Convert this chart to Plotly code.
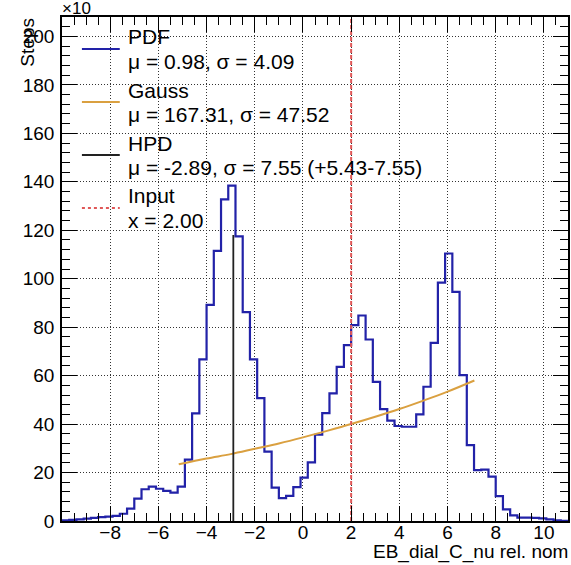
import numpy as np
import plotly.graph_objects as go

# ---------------- data ----------------
BIN_LOW = -10.0
BIN_WIDTH = 0.3
steps_counts = [
    0.3, 0.5, 0.7, 1.0, 1.3, 1.6, 1.8, 2.1, 3.0, 5.1,
    9.2, 13.1, 14.2, 13.3, 12.4, 11.7, 14.2, 25.3, 44.4, 66.7,
    89.2, 111.5, 132.7, 138.4, 117.5, 86.2, 66.7, 50.7, 28.6, 13.8,
    9.4, 10.4, 14.0, 17.9, 24.2, 35.6, 44.5, 52.7, 63.6, 72.6,
    80.8, 84.8, 74.9, 57.4, 46.2, 41.4, 39.2, 38.9, 38.9, 44.0,
    55.4, 73.5, 98.4, 110.4, 94.6, 60.2, 31.3, 21.0, 21.2, 18.3,
    10.3, 4.8, 2.3, 1.4, 1.4, 1.3, 1.1, 0.7, 0.3, 0.1,
]
gauss_x = [-5.155, -4.0, -3.0, -2.0, -1.0, 0.0, 1.0, 2.0, 3.0, 4.0, 5.0, 6.0, 7.115]
gauss_y = [23.4, 25.8, 27.6, 29.8, 32.0, 34.5, 37.2, 40.0, 43.0, 46.2, 49.7, 53.4, 58.0]
hpd_x = -2.89
hpd_height = 118.0
input_x = 2.0
y_max = 208.0
x_min, x_max = -10.0, 11.0
x_tickvals = [-8, -6, -4, -2, 0, 2, 4, 6, 8, 10]
y_tickvals = [0, 20, 40, 60, 80, 100, 120, 140, 160, 180, 200]

legend_entries = [
    ("PDF", "μ = 0.98, σ = 4.09"),
    ("Gauss", "μ = 167.31, σ = 47.52"),
    ("HPD", "μ = -2.89, σ = 7.55 (+5.43-7.55)"),
    ("Input", "x = 2.00"),
]

# ---------------- figure ----------------
FONT = "Liberation Sans, Arial, Helvetica, sans-serif"
BLUE = "#2222a8"
ORANGE = "#daa040"
RED = "#e05858"

n = len(steps_counts)
edges = BIN_LOW + BIN_WIDTH * np.arange(n + 1)
hx = list(edges)
hy = list(steps_counts) + [steps_counts[-1]]

fig = go.Figure()
fig.add_trace(go.Scatter(x=hx, y=hy, mode="lines", line=dict(color=BLUE, width=2.2, shape="hv"),
                         showlegend=False, name="PDF"))
fig.add_trace(go.Scatter(x=gauss_x, y=gauss_y, mode="lines", line=dict(color=ORANGE, width=2, shape="spline"),
                         showlegend=False, name="Gauss"))
fig.add_trace(go.Scatter(x=[hpd_x, hpd_x], y=[0, hpd_height], mode="lines", line=dict(color="#222222", width=1.8),
                         showlegend=False, name="HPD"))
fig.add_trace(go.Scatter(x=[input_x, input_x], y=[0, y_max], mode="lines",
                         line=dict(color=RED, width=2, dash="4px,2px"), showlegend=False, name="Input"))

W, H = 571, 565
L, R, T, B = 62, 1, 17, 44
pw, ph = W - L - R, H - T - B

def px2paper_x(px):
    return (px - L) / pw

def px2paper_y(py):
    return (H - B - py) / ph

# manual legend
sample_colors = [(BLUE, "solid"), (ORANGE, "solid"), ("#222222", "solid"), (RED, "3px,3px")]
line_ys = [49, 102, 155, 208]
shapes = []
annotations = []
LEG_FONT = dict(family=FONT, size=21, color="black")
for (title, sub), (col, dash), ly in zip(legend_entries, sample_colors, line_ys):
    shapes.append(dict(type="line", xref="paper", yref="paper",
                       x0=px2paper_x(82), x1=px2paper_x(120),
                       y0=px2paper_y(ly), y1=px2paper_y(ly),
                       line=dict(color=col, width=2, dash=dash)))
    annotations.append(dict(text=title, xref="paper", yref="paper", x=px2paper_x(126), y=px2paper_y(ly - 12),
                            xanchor="left", yanchor="middle", showarrow=False, font=LEG_FONT))
    annotations.append(dict(text=sub, xref="paper", yref="paper", x=px2paper_x(126), y=px2paper_y(ly + 12.5),
                            xanchor="left", yanchor="middle", showarrow=False, font=LEG_FONT))

annotations.append(dict(text="EB_dial_C_nu rel. nom", xref="paper", yref="paper",
                        x=px2paper_x(572), y=px2paper_y(552), xanchor="right", yanchor="middle",
                        showarrow=False, font=dict(family=FONT, size=19, color="black")))
annotations.append(dict(text="Steps", xref="paper", yref="paper", textangle=-90,
                        x=px2paper_x(27), y=px2paper_y(16), xanchor="center", yanchor="top",
                        showarrow=False, font=dict(family=FONT, size=19, color="black")))
annotations.append(dict(text="×10", xref="paper", yref="paper",
                        x=px2paper_x(60), y=px2paper_y(8), xanchor="left", yanchor="middle",
                        showarrow=False, font=dict(family=FONT, size=17, color="black")))

axis_common = dict(
    showline=True, linecolor="black", linewidth=1.5, mirror="ticks",
    ticks="inside", ticklen=15, tickwidth=1.2, tickcolor="black",
    showgrid=True, gridcolor="#333333", griddash="1px,2px", gridwidth=1,
    zeroline=False, tickfont=dict(family=FONT, size=19, color="black"),
)

fig.update_layout(
    width=W, height=H,
    margin=dict(l=L, r=R, t=T, b=B),
    paper_bgcolor="white", plot_bgcolor="white",
    shapes=shapes, annotations=annotations, showlegend=False,
    xaxis=dict(range=[x_min, x_max], tickmode="array", tickvals=x_tickvals,
               minor=dict(ticks="inside", ticklen=8, tickmode="linear", tick0=0, dtick=0.5,
                          tickcolor="black", showgrid=False),
               ticklabelstandoff=-7, **axis_common),
    yaxis=dict(range=[0, y_max], tickmode="array", tickvals=y_tickvals,
               minor=dict(ticks="inside", ticklen=8, tickmode="linear", tick0=0, dtick=4,
                          tickcolor="black", showgrid=False),
               ticklabelstandoff=2, **axis_common),
)

fig.write_html("out.html")
